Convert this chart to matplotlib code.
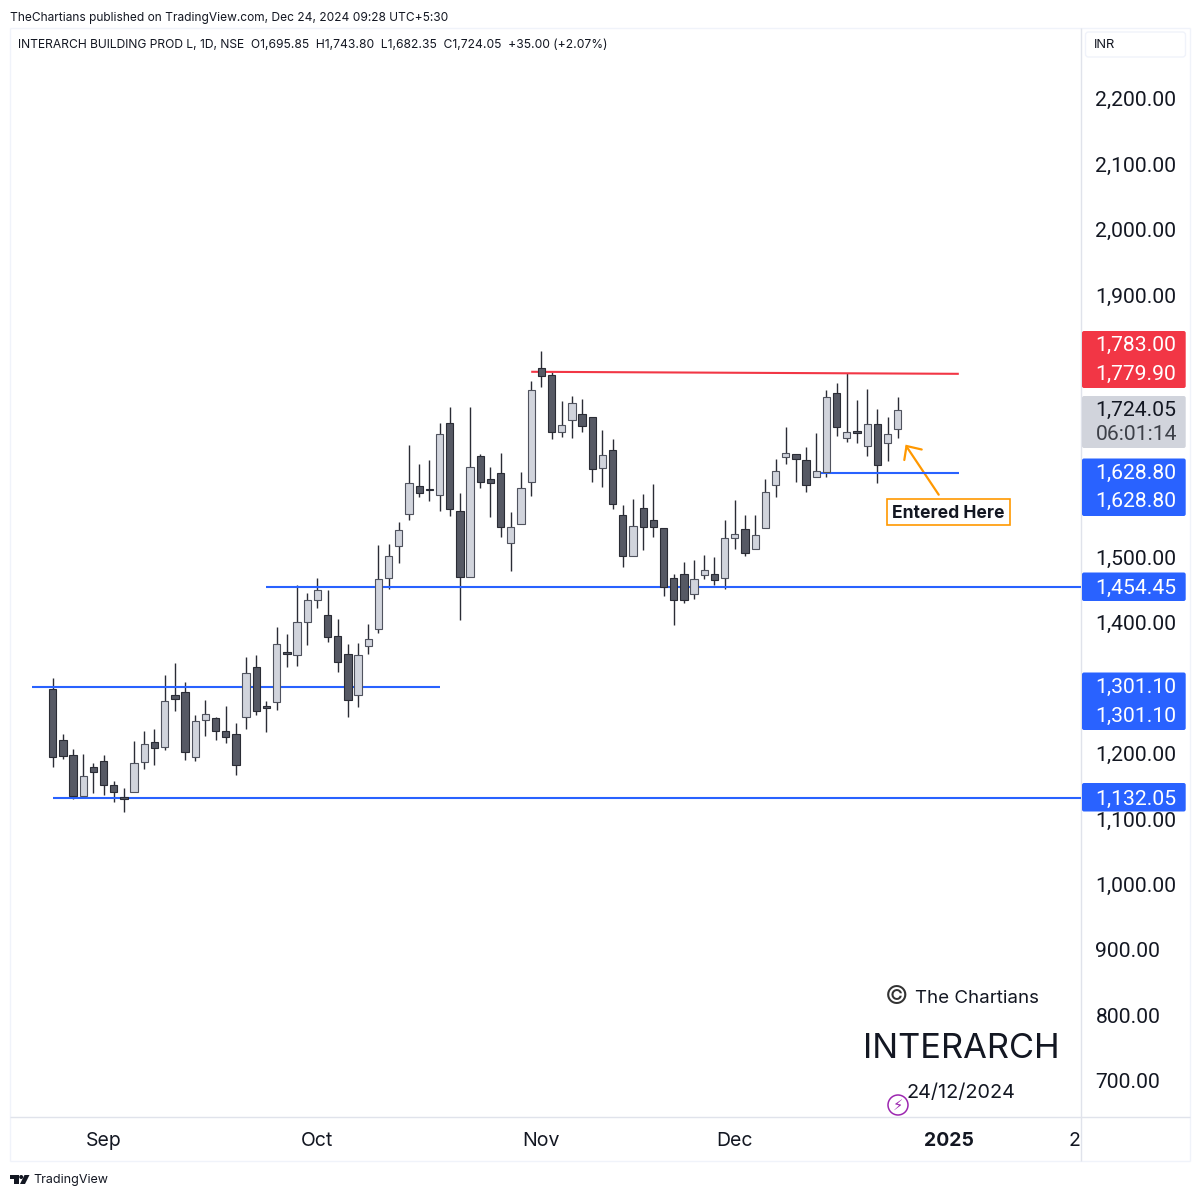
import matplotlib
matplotlib.use("Agg")
import matplotlib.pyplot as plt
from matplotlib.patches import FancyBboxPatch, Circle, Polygon, Rectangle
from matplotlib.transforms import IdentityTransform

plt.rcParams['font.family'] = ['Inter', 'DejaVu Sans']
PRICE_FONT = 'Roboto'

# ---------- data ----------
highs = [1314.8,1229.7,1206.8,1198.7,1185.5,1197.7,1158.5,1147.8,1218.5,1233.8,1237.9,1319.3,1338.2,1309.7,1258.3,1281.7,1256.2,1272.5,1246.0,1347.9,1349.9,1279.6,1393.7,1382.0,1456.8,1445.1,1467.5,1449.7,
         1405.7,1366.5,1369.5,1397.5,
         1518.2,1520.7,1553.8,1670.9,1642.4,1648.5,1704.5,1729.5,1598.1,1729.5,1658.2,1637.8,1659.2,1568.6,1629.2,1769.2,1815.0,1783.4,1738.6,1746.3,1741.7,1714.7,1694.3,1681.1,1578.8,1589.0,1596.6,1611.4,1544.2,1474.4,1493.2,1496.3,1503.4,1499.9,
         1556.9,1587.4,1564.5,1564.5,1620.0,1649.5,1698.4,1658.2,1667.8,1689.2,1754.9,1766.1,1780.9,1739.6,1756.4,1725.9,1714.7,1743.8]
lows = [1179.9,1192.1,1130.0,1135.6,1140.2,1137.1,1126.4,1111.1,1140.7,1175.8,1181.9,1205.8,1265.4,1190.0,1188.0,1226.7,1220.6,1215.5,1167.6,1236.9,1258.3,1232.3,1265.9,1331.6,1333.1,1366.2,1422.7,1370.3,
        1324.7,1255.0,1270.3,1352.7,
        1383.3,1451.0,1490.2,1556.9,1592.5,1584.9,1570.6,1563.0,1404.1,1470.3,1605.8,1560.5,1530.4,1479.5,1550.3,1593.5,1760.0,1681.1,1683.6,1682.1,1691.8,1614.9,1606.3,1572.7,1485.6,1501.9,1511.1,1531.4,1439.8,1395.5,1430.6,1436.7,1466.3,1457.1,
        1452.0,1512.1,1500.9,1512.1,1544.6,1592.0,1642.9,1614.9,1600.1,1622.5,1622.5,1685.1,1676.0,1673.9,1654.6,1613.9,1646.0,1682.35]
opens = [1297.9,1220.1,1197.2,1135.6,1178.8,1189.0,1151.3,1133.5,1140.7,1186.5,1217.5,1210.4,1289.8,1293.9,1194.6,1250.6,1254.2,1234.3,1229.7,1256.2,1331.6,1272.5,1279.1,1354.5,1349.9,1400.3,1433.9,1411.5,
         1378.7,1352.2,1289.6,1364.0,
         1389.4,1468.8,1516.7,1565.5,1608.3,1604.7,1594.6,1704.5,1571.1,1470.3,1654.1,1620.0,1628.2,1521.8,1550.3,1614.9,1788.5,1778.3,1691.8,1709.6,1717.8,1714.7,1635.3,1663.8,1564.5,1501.9,1574.7,1557.4,1544.2,1468.8,1474.4,1443.4,1472.9,1474.4,
         1467.8,1528.4,1543.6,1513.1,1544.6,1610.8,1652.6,1658.2,1649.0,1622.5,1630.2,1750.8,1681.6,1692.3,1669.4,1703.0,1673.9,1695.85]
closes = [1195.1,1196.1,1135.1,1166.1,1172.2,1151.9,1141.7,1131.0,1186.0,1214.0,1208.9,1279.6,1283.7,1201.7,1249.6,1259.8,1234.8,1224.7,1181.9,1322.4,1264.9,1269.5,1367.7,1351.9,1401.3,1434.9,1449.2,1378.4,
          1340.5,1281.0,1350.2,1374.6,
          1466.3,1501.9,1542.1,1612.4,1598.6,1601.7,1688.7,1574.2,1470.3,1637.3,1615.4,1612.9,1546.2,1545.2,1605.8,1755.9,1776.3,1690.3,1702.0,1734.6,1700.4,1633.8,1656.2,1580.8,1501.9,1547.7,1546.7,1545.2,1454.0,1433.7,1434.7,1466.3,1480.0,1465.3,
          1528.9,1536.0,1506.0,1533.4,1599.6,1631.2,1658.7,1649.5,1610.8,1632.2,1745.2,1698.9,1691.8,1689.7,1703.0,1641.4,1688.2,1724.05]

price_ticks = [2200, 2100, 2000, 1900, 1500, 1400, 1200, 1100, 1000, 900, 800, 700]
month_pos = [5, 26, 48, 67, 88, 100.4]
month_labels = ['Sep', 'Oct', 'Nov', 'Dec', '2025', '2']

# horizontal drawn levels: start bar, end bar, start price, end price
blue_lines = [(0, 101.5, 1132.05, 1132.05), (-2, 38, 1301.10, 1301.10),
              (21, 101.5, 1454.45, 1454.45), (75.4, 89, 1628.80, 1628.80)]
red_lines = [(47, 89, 1783.00, 1779.90)]

# ---------- colours ----------
BLUE = '#2962FF'
RED = '#F23645'
DARK_BODY = '#565964'
LIGHT_BODY = '#D1D4DC'
EDGE_DARK = '#2A2C35'
EDGE_LIGHT = '#50535E'
WICK = '#2A2C35'
ORANGE = '#FF9800'
TXT = '#131722'
GRID = '#E0E3EB'
TAG_GREY = '#D1D4DC'

W, H = 1200, 1197
fig = plt.figure(figsize=(W/100, H/100), dpi=100, facecolor='white')

# pixel overlay for page furniture
ov = fig.add_axes([0, 0, 1, 1], zorder=0)
ov.set_xlim(0, W); ov.set_ylim(H, 0); ov.axis('off')

# chart axes
L, R, T, B = 10, 1081, 28, 1117
ax = fig.add_axes([L/W, 1-B/H, (R-L)/W, (B-T)/H], zorder=1)
ax.patch.set_alpha(0)
for s in ax.spines.values():
    s.set_visible(False)
ax.set_xlim(-4.19, 101.0)
ax.set_ylim(644.8, 2308.1)

# frame
for x0, y0, x1, y1, c in [(10, 28, 10, 1161, '#F0F3FA'), (1190, 28, 1190, 1161, '#F0F3FA'),
                          (10, 28, 1190, 28, '#F0F3FA'), (10, 1161, 1190, 1161, '#F0F3FA'),
                          (1081, 28, 1081, 1161, GRID), (10, 1117, 1190, 1117, GRID)]:
    ov.plot([x0, x1], [y0, y1], color=c, lw=1.0, solid_capstyle='butt')

# candles
xs = list(range(len(opens)))
ax.vlines(xs, lows, highs, color=WICK, lw=1.0, zorder=3)
for i, (o, c) in enumerate(zip(opens, closes)):
    up = c >= o
    ax.bar(i, max(abs(c-o), 2.0), bottom=min(o, c), width=0.72,
           color=LIGHT_BODY if up else DARK_BODY,
           edgecolor=EDGE_LIGHT if up else EDGE_DARK, linewidth=0.8, zorder=4)

# drawn lines
for x0, x1, p0, p1 in blue_lines:
    ax.plot([x0, x1], [p0, p1], color=BLUE, lw=1.5, solid_capstyle='butt', zorder=3.5, clip_on=True)
for x0, x1, p0, p1 in red_lines:
    ax.plot([x0, x1], [p0, p1], color=RED, lw=1.5, solid_capstyle='butt', zorder=3.5)

# axes ticks (left-aligned in the scale column, as in the reference)
ax.yaxis.tick_right()
ax.set_yticks(price_ticks)
ax.set_yticklabels([f'{p:,.2f}' for p in price_ticks], fontsize=15.2, color=TXT, ha='left',
                   family=PRICE_FONT)
ax.tick_params(axis='y', length=0, pad=10.4)
ax.set_xticks(month_pos)
ax.set_xticklabels(month_labels, fontsize=14, color=TXT)
ax.tick_params(axis='x', length=0, pad=11)
ax.get_xticklabels()[4].set_fontweight('bold')

# price tags (pixel boxes, value text placed through the price scale)
tags = [(331, 388, RED, [('1,783.00', 1783.00, -26, 'white'), ('1,779.90', 1779.90, 1, 'white')]),
        (396, 448, TAG_GREY, [('1,724.05', 1724.05, 0, TXT), ('06:01:14', 1724.05, 24, '#3D4048')]),
        (458.5, 516, BLUE, [('1,628.80', 1628.80, 1, 'white'), ('1,628.80', 1628.80, 29, 'white')]),
        (572.5, 601, BLUE, [('1,454.45', 1454.45, 1, 'white')]),
        (672.5, 730, BLUE, [('1,301.10', 1301.10, 0, 'white'), ('1,301.10', 1301.10, 29, 'white')]),
        (783, 811.5, BLUE, [('1,132.05', 1132.05, 1, 'white')])]
for top, bot, col, rows in tags:
    p = FancyBboxPatch((1082, H-bot), 103.7, bot-top, boxstyle='round,pad=0,rounding_size=2',
                       transform=IdentityTransform(), facecolor=col, edgecolor='none',
                       clip_on=False, zorder=5)
    ax.add_artist(p)
    for label, price, off, tc in rows:
        ax.annotate(label, xy=(1, price), xycoords=ax.get_yaxis_transform(),
                    xytext=(14.5*0.72, -off*0.72), textcoords='offset points',
                    ha='left', va='center', fontsize=15.2, color=tc, family=PRICE_FONT,
                    annotation_clip=False, zorder=6)

# INR box
ov.add_patch(FancyBboxPatch((1085.5, 32), 100, 25, boxstyle='round,pad=0,rounding_size=3',
                            facecolor='white', edgecolor='#F0F3FA', lw=1))
ov.text(1094, 45, 'INR', fontsize=9.3, color=TXT, va='center', ha='left')

# header & legend
ov.text(10, 18.5, 'TheChartians published on TradingView.com, Dec 24, 2024 09:28 UTC+5:30',
        fontsize=8.6, color=TXT, va='center', ha='left')
ov.text(18, 45.5, 'INTERARCH BUILDING PROD L, 1D, NSE  O1,695.85  H1,743.80  L1,682.35  C1,724.05  +35.00 (+2.07%)',
        fontsize=8.7, color=TXT, va='center', ha='left')

# arrow + label
ov.plot([938.7, 906.5], [494.7, 446.5], color=ORANGE, lw=1.6, solid_capstyle='round')
ov.plot([921.7, 906.5, 904.3], [449.5, 446, 460], color=ORANGE, lw=1.6, solid_joinstyle='miter', solid_capstyle='round')
ov.add_patch(Rectangle((886.5, 498.5), 123, 26, facecolor='white', edgecolor=ORANGE, lw=1.2))
ov.text(947.8, 513.5, 'Entered Here', fontsize=12.6, fontweight='bold', color=TXT, va='center', ha='center')

# watermark
ov.text(897, 997, '\u00a9', fontsize=18.5, color='#333333', va='center', ha='center')
ov.text(915, 998.5, 'The Chartians', fontsize=13.5, color=TXT, va='center', ha='left')
ov.text(961, 1048.5, 'INTERARCH', fontsize=24.8, color=TXT, va='center', ha='center')
ov.text(907, 1093, '24/12/2024', fontsize=14.3, color=TXT, va='center', ha='left')
ov.add_patch(Circle((898, 1105), 10, facecolor='white', edgecolor='#9C27B0', lw=1.1))
ov.text(898, 1105, '\u26a1', fontsize=10.5, color='#9C27B0', va='center', ha='center', family='DejaVu Sans')

# TradingView logo
ov.add_patch(Polygon([(10, 1175), (18.5, 1175), (18.5, 1184), (14, 1184), (14, 1179), (10, 1179)], facecolor=TXT, edgecolor='none'))
ov.add_patch(Circle((21.2, 1177), 2, facecolor=TXT, edgecolor='none'))
ov.add_patch(Polygon([(24.5, 1175), (29.5, 1175), (25, 1184), (20, 1184)], facecolor=TXT, edgecolor='none'))
ov.text(33.5, 1180, 'TradingView', fontsize=9.0, color=TXT, va='center', ha='left')

fig.savefig('out.png', dpi=100, facecolor='white')
